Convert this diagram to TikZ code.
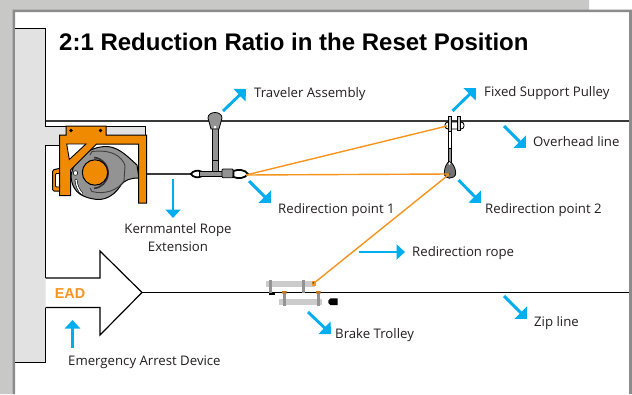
\documentclass[tikz,border=0pt]{standalone}
\usepackage{fontspec}
\setmainfont{Liberation Sans}
\newfontfamily\lblfont{Open Sans}
\definecolor{cyanarrow}{HTML}{00AEEF}
\definecolor{rope}{HTML}{F7941D}
\definecolor{orangepart}{HTML}{F08A00}
\definecolor{greypart}{HTML}{939393}
\definecolor{wall}{HTML}{E2E2E2}
\definecolor{outer}{HTML}{C8C8C6}
\definecolor{frameline}{HTML}{8C8C8C}
\definecolor{lineblack}{HTML}{3A3A3A}
\definecolor{txt}{HTML}{231F20}
\usetikzlibrary{arrows.meta}
\tikzset{
  callout/.style={draw=cyanarrow,line width=2.9pt,-{Triangle[length=9pt,width=17pt,fill=cyanarrow]}},
  calloutstraight/.style={draw=cyanarrow,line width=2.6pt,-{Triangle[length=8.5pt,width=15pt,fill=cyanarrow]}},
  lbl/.style={font=\lblfont\fontsize{13.2}{18}\selectfont,text=txt,inner sep=0pt,align=center},
  ropeline/.style={draw=rope,line width=1.4pt},
  part/.style={draw=black,line width=.8pt,fill=greypart},
}
\begin{document}
\begin{tikzpicture}[x=1pt,y=-1pt]
\useasboundingbox (0,0) rectangle (632,394);
\fill[white] (0,0) rectangle (632,394);
\fill[outer] (0,0) rectangle (589,10) (0,0) rectangle (13,394);
\fill[frameline] (12.5,9.5) rectangle (632,12) (12.5,9.5) rectangle (15,394) (629,9.5) rectangle (632,394);
% wall
\fill[wall] (15,28.5) -- (45.5,28.5) -- (45.5,126.5) -- (145.5,126.5) -- (145.5,135) -- (100,135) -- (100,145) -- (45.5,145) -- (45.5,362) -- (15,362) -- cycle;
\draw[black,line width=1pt] (15,28.5) -- (45.5,28.5) -- (45.5,126.5) -- (145.5,126.5) -- (145.5,135);
\draw[black,line width=1pt] (60,145) -- (45.5,145) -- (45.5,278);
\draw[black,line width=1pt] (45.5,307.5) -- (45.5,362) -- (15,362);
% overhead line
\coordinate (ohL) at (45.5,121);
\coordinate (ohR) at (629,121);
\draw[lineblack,line width=1.6pt] (ohL) -- (ohR);
% zip line
\coordinate (ead) at (142,292.5);
\coordinate (zipR) at (629,292.5);
\draw[black,line width=1.3pt] (ead) -- (zipR);
% EAD arrow
\draw[black,line width=1.2pt,miter limit=4] (45.5,278) -- (100,278) -- (100,251) -- (ead) -- (100,335) -- (100,307.5) -- (45.5,307.5);
\node[font=\bfseries\fontsize{14.4}{16}\selectfont,text=rope,inner sep=0pt] (eadlbl) at (70,293.5) {EAD};
% extension rope
\coordinate (extL) at (146,174);
\coordinate (extR) at (192,174);
\draw[lineblack,line width=1.2pt] (extL) -- (extR);
% device handle
\draw[black,line width=1pt,fill=orangepart,rounded corners=1.5pt] (52.5,170) -- (61,168) -- (61,191) -- (52.5,191) -- cycle;
\fill[white,draw=black,line width=.8pt,rounded corners=1pt] (55.5,173.5) rectangle (60,187);
% device body
\draw[black,line width=1pt,fill=greypart] (71,176) .. controls (73,160) and (88,146) .. (108,146.5) .. controls (120,148) and (128,157) .. (137,165) -- (139,178) .. controls (130,178) and (125,180) .. (121,185) .. controls (116,193) and (108,200) .. (97,199.5) .. controls (86,198) and (72,195) .. (71,176) -- cycle;
\draw[black!75,line width=.9pt] (90,155) -- (92,151.5) .. controls (105,150) and (118,152) .. (124,163) -- (125,166) -- (124,181) .. controls (118,190) and (105,195) .. (92,191.5) -- (90,188);
\draw[black!80,line width=1.6pt] (94,157.5) arc[start angle=-85,end angle=85,radius=15.5];
\fill[white,draw=black,line width=.5pt] (75.5,173) circle (2.3);
\draw[black,line width=2.6pt,line cap=round] (76,180) .. controls (76.5,186) and (79,191) .. (82,193.5);
\draw[white,line width=1.4pt,line cap=round] (76,180) .. controls (76.5,186) and (79,191) .. (82,193.5);
\draw[black,line width=1pt,fill=orangepart] (95,172.5) circle (12.7);
% bracket
\draw[black,line width=1pt,fill=orangepart] (66,126) -- (106,126) -- (106,135) -- (146.5,135) -- (146.5,203) -- (138.5,203) -- (138.5,144) -- (96.5,144) -- (70.5,170) -- (70.5,195.5) -- (59.5,195.5) -- (59.5,135) -- (66,135) -- cycle;
\fill[white,draw=black,line width=.9pt] (66.7,144) -- (86,144) -- (69.3,159.5) -- cycle;
\fill[black] (71,130.5) circle (1.9) (100.5,130.5) circle (1.9);
% traveler
\coordinate (trTop) at (215,113);
\draw[part] (212.7,128) rectangle (218.3,172);
\draw[black,line width=.5pt] (212.7,160) -- (218.3,160);
\draw[part] (208,118) .. controls (208,114) and (212,112.5) .. (215,112.5) .. controls (218,112.5) and (222,114) .. (222,118) -- (219,129) -- (211,129) -- cycle;
\fill[white] (215,127) circle (1.5);
\draw[black,line width=1.8pt] (191,174) .. controls (193,170.5) and (198,170) .. (201,171.5) -- (201,176.5) .. controls (198,178) and (193,177.5) .. (191,174) -- cycle;
\draw[part] (199,171.7) rectangle (224,176.7);
\draw[part,rounded corners=1pt] (222,169) rectangle (233.3,177.7);
\draw[black,line width=1.8pt] (233.5,171) .. controls (238,169) and (245,169.5) .. (248,174) .. controls (245,178.5) and (238,179) .. (233.5,177) -- cycle;
% fixed support pulley
\coordinate (fixP) at (447,126);
\coordinate (redir1) at (246,175);
\coordinate (redir2) at (449.5,174);
\draw[black,line width=.9pt,fill=white,rounded corners=3pt] (445,122) rectangle (464,129);
\draw[part,line width=.5pt,fill=greypart!50] (448.5,116.7) rectangle (451.5,131);
\draw[part,line width=.5pt,fill=greypart!50] (457,116.7) rectangle (460,130);
\draw[fill=white,draw=black,line width=.7pt] (448,131) rectangle (451.5,148);
\draw[part,line width=.6pt] (448,148) rectangle (451.5,162);
\draw[part,fill=black!55] (449.5,161.7) .. controls (452,161.7) and (455.7,168) .. (455.7,173) .. controls (455.7,176.5) and (452.5,178.2) .. (449.5,178.2) .. controls (446.5,178.2) and (444.3,176.5) .. (444.3,173) .. controls (444.3,168) and (447,161.7) .. (449.5,161.7) -- cycle;
\fill[white] (449.5,163.5) ellipse (1 and 1.6);
% ropes
\draw[ropeline] (redir1) -- (fixP);
\draw[ropeline] (redir1) -- (redir2);
\coordinate (trolleyP) at (313.5,283.5);
\draw[ropeline] (trolleyP) -- (redir2);
\fill[black!70] (449.5,174) circle (1);
% brake trolley
\fill[wall!90!black] (266,280.7) rectangle (315,286.7);
\draw[greypart,line width=3pt] (270.8,280) -- (270.8,293) (303.5,280) -- (303.5,293);
\fill[black] (269,293) rectangle (274.5,295);
\fill[rope] (312,281) rectangle (316,285.5);
\fill[black!70] (313.3,282.8) circle (1);
\fill[wall!90!black] (279.3,299.3) rectangle (321.7,305);
\draw[greypart,line width=3pt] (284.2,292) -- (284.2,305.5) (318.3,292) -- (318.3,305.5);
\fill[rope!80!black] (282,291) rectangle (286.5,293.5) (316,291) rectangle (320.5,293.5);
\fill[black] (330.5,298.3) -- (337.7,298.3) -- (337.7,305) -- (330.5,305) -- (328.3,302.8) -- (328.3,300.5) -- cycle;
% title
\node[anchor=base west,inner sep=0pt,font=\bfseries\fontsize{24}{26}\selectfont] (title) at (59,50) {2:1 Reduction Ratio in the Reset Position};
% labels
\node[lbl,anchor=base west] (l1) at (254,97) {Traveler Assembly};
\node[lbl,anchor=base west] (l2) at (484,96) {Fixed Support Pulley};
\node[lbl,anchor=base west] (l3) at (533,146) {Overhead line};
\node[lbl,anchor=base west] (l4) at (278,213) {Redirection point 1};
\node[lbl,anchor=base west] (l5) at (485,213) {Redirection point 2};
\node[lbl] (l6) at (178,238) {Kernmantel Rope\\Extension};
\node[lbl,anchor=base west] (l7) at (412,256) {Redirection rope};
\node[lbl,anchor=base west] (l8) at (335,338) {Brake Trolley};
\node[lbl,anchor=base west] (l9) at (534,326) {Zip line};
\node[lbl,anchor=base west] (l10) at (68,365) {Emergency Arrest Device};
% callouts
\coordinate (a1s) at (223,111); \coordinate (a1e) at (246,89);
\draw[callout] (a1s) -- (a1e);
\coordinate (a2s) at (452.5,111); \coordinate (a2e) at (476,88);
\draw[callout] (a2s) -- (a2e);
\coordinate (a3s) at (504,126); \coordinate (a3e) at (526,148);
\draw[callout] (a3s) -- (a3e);
\coordinate (a4s) at (249,181); \coordinate (a4e) at (271,203);
\draw[callout] (a4s) -- (a4e);
\coordinate (a5s) at (458.5,180); \coordinate (a5e) at (481,203);
\draw[callout] (a5s) -- (a5e);
\coordinate (a6s) at (173,179); \coordinate (a6e) at (173,218);
\draw[calloutstraight] (a6s) -- (a6e);
\coordinate (a7s) at (359,252); \coordinate (a7e) at (405,252);
\draw[calloutstraight] (a7s) -- (a7e);
\coordinate (a8s) at (308,312); \coordinate (a8e) at (331,334);
\draw[callout] (a8s) -- (a8e);
\coordinate (a9s) at (504,296); \coordinate (a9e) at (527,319);
\draw[callout] (a9s) -- (a9e);
\coordinate (a10s) at (72.5,348); \coordinate (a10e) at (72.5,320);
\draw[calloutstraight] (a10s) -- (a10e);
\end{tikzpicture}
\end{document}
